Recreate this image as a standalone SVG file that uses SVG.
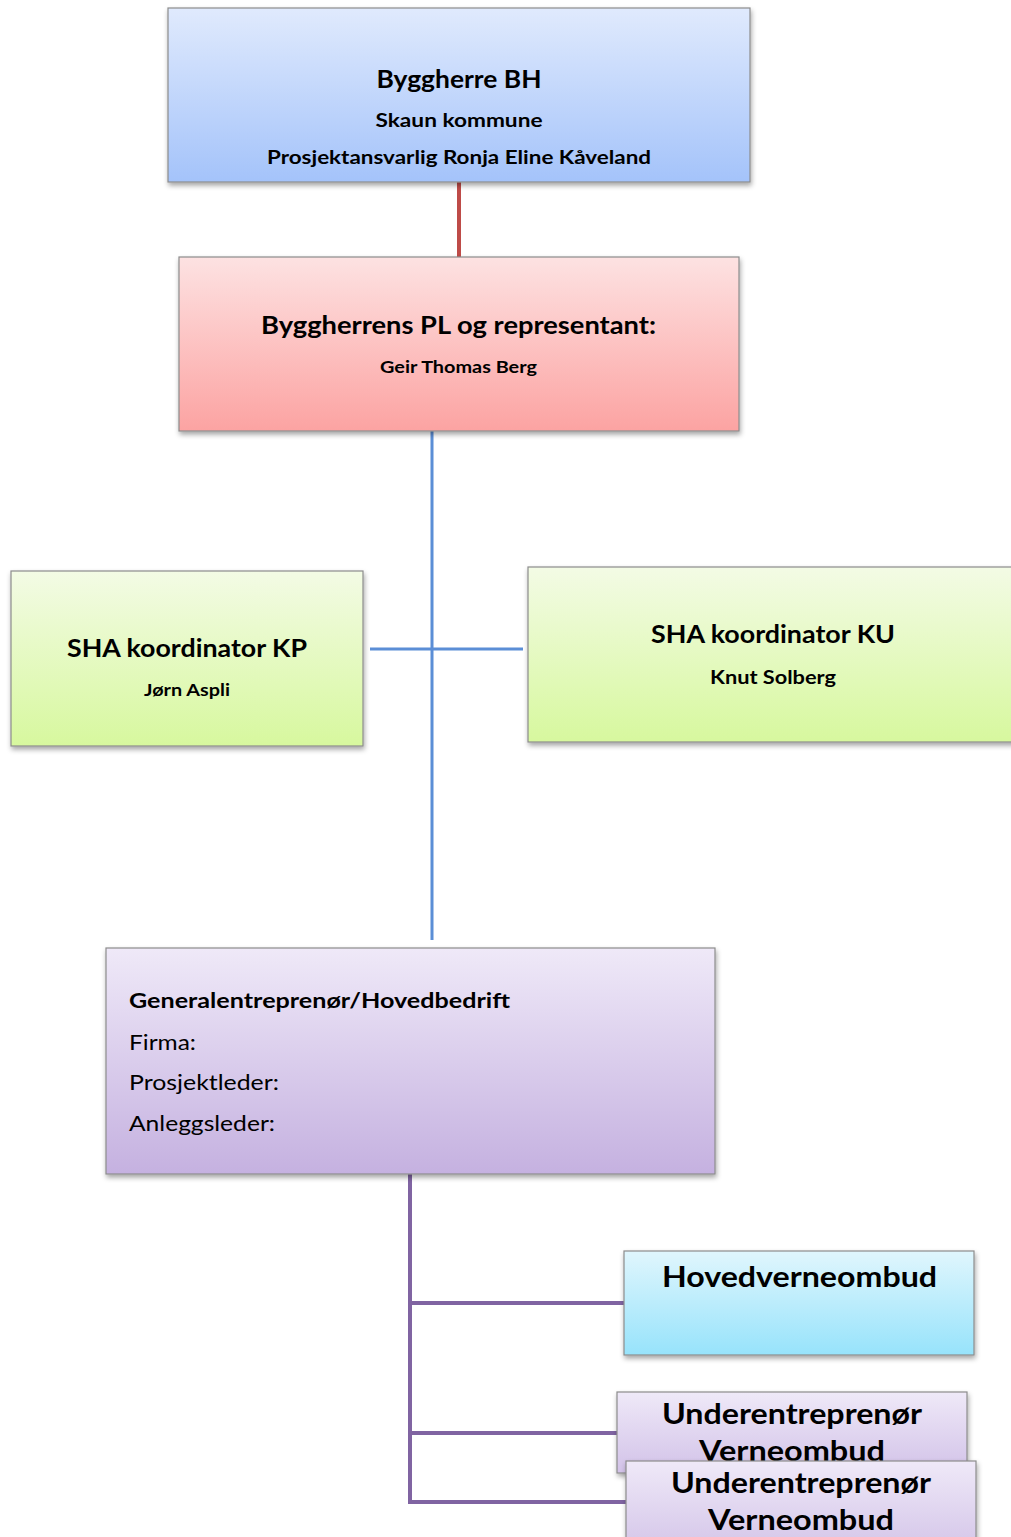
<svg xmlns="http://www.w3.org/2000/svg" width="1011" height="1537" viewBox="0 0 1011 1537">
<defs>
<linearGradient id="gBlue" x1="0" y1="0" x2="0" y2="1"><stop offset="0" stop-color="#e0eafd"/><stop offset="1" stop-color="#a4c3fa"/></linearGradient>
<linearGradient id="gRed" x1="0" y1="0" x2="0" y2="1"><stop offset="0" stop-color="#fde2e2"/><stop offset="1" stop-color="#fca3a2"/></linearGradient>
<linearGradient id="gGreen" x1="0" y1="0" x2="0" y2="1"><stop offset="0" stop-color="#f3fbe5"/><stop offset="1" stop-color="#d7f89e"/></linearGradient>
<linearGradient id="gPurple" x1="0" y1="0" x2="0" y2="1"><stop offset="0" stop-color="#efe9f8"/><stop offset="1" stop-color="#c5b1e0"/></linearGradient>
<linearGradient id="gPurpleS" x1="0" y1="0" x2="0" y2="1"><stop offset="0" stop-color="#efe9f8"/><stop offset="1" stop-color="#d2c2e8"/></linearGradient>
<linearGradient id="gCyan" x1="0" y1="0" x2="0" y2="1"><stop offset="0" stop-color="#e0f6fd"/><stop offset="1" stop-color="#97e3fb"/></linearGradient>
<filter id="sh" x="-5%" y="-10%" width="110%" height="125%"><feDropShadow dx="1" dy="3" stdDeviation="2.5" flood-color="#000" flood-opacity="0.35"/></filter>
</defs>
<style>
.box{stroke:#8c8c8c;stroke-width:1.2;filter:url(#sh)}
text{font-family:Lato,"Open Sans","Liberation Sans",sans-serif;fill:#000}
.b{font-weight:bold}
.c{text-anchor:middle}
.conn{fill:none}
</style>
<rect width="1011" height="1537" fill="#fff"/>
<g id="connectors" class="conn">
<line x1="459" y1="182" x2="459" y2="257" stroke="#be4b48" stroke-width="4"/>
<line x1="432" y1="431" x2="432" y2="940" stroke="#5b8ed6" stroke-width="3"/>
<line x1="370" y1="649" x2="523" y2="649" stroke="#5b8ed6" stroke-width="3"/>
<line x1="410" y1="1174" x2="410" y2="1503" stroke="#8064a2" stroke-width="4"/>
<line x1="410" y1="1303" x2="624" y2="1303" stroke="#8064a2" stroke-width="4"/>
<line x1="410" y1="1433" x2="618" y2="1433" stroke="#8064a2" stroke-width="4"/>
<line x1="408" y1="1502" x2="626" y2="1502" stroke="#8064a2" stroke-width="4"/>
</g>
<g id="byggherre">
<rect class="box" x="168" y="8" width="582" height="174" fill="url(#gBlue)"/>
<text class="b c" x="459" y="88" font-size="24" textLength="165" lengthAdjust="spacingAndGlyphs">Byggherre BH</text>
<text class="b c" x="459" y="127" font-size="19" textLength="167" lengthAdjust="spacingAndGlyphs">Skaun kommune</text>
<text class="b c" x="459" y="164" font-size="19" textLength="384" lengthAdjust="spacingAndGlyphs">Prosjektansvarlig Ronja Eline Kåveland</text>
</g>
<g id="pl">
<rect class="box" x="179" y="257" width="560" height="174" fill="url(#gRed)"/>
<text class="b c" x="458.5" y="334" font-size="24" textLength="395" lengthAdjust="spacingAndGlyphs">Byggherrens PL og representant:</text>
<text class="b c" x="458.5" y="373" font-size="17.5" textLength="157" lengthAdjust="spacingAndGlyphs">Geir Thomas Berg</text>
</g>
<g id="kp">
<rect class="box" x="11" y="571" width="352" height="175" fill="url(#gGreen)"/>
<text class="b c" x="187" y="657" font-size="24.5" textLength="240" lengthAdjust="spacingAndGlyphs">SHA koordinator KP</text>
<text class="b c" x="187" y="696" font-size="17.5" textLength="86" lengthAdjust="spacingAndGlyphs">Jørn Aspli</text>
</g>
<g id="ku">
<rect class="box" x="528" y="567" width="490" height="175" fill="url(#gGreen)"/>
<text class="b c" x="773" y="643" font-size="24.5" textLength="244" lengthAdjust="spacingAndGlyphs">SHA koordinator KU</text>
<text class="b c" x="773" y="684" font-size="19" textLength="126" lengthAdjust="spacingAndGlyphs">Knut Solberg</text>
</g>
<g id="ge">
<rect class="box" x="106" y="948" width="609" height="226" fill="url(#gPurple)"/>
<text class="b" x="129" y="1008" font-size="21.5" textLength="381" lengthAdjust="spacingAndGlyphs">Generalentreprenør/Hovedbedrift</text>
<text x="129" y="1050" font-size="21.5" textLength="67" lengthAdjust="spacingAndGlyphs">Firma:</text>
<text x="129" y="1090" font-size="21.5" textLength="150" lengthAdjust="spacingAndGlyphs">Prosjektleder:</text>
<text x="129" y="1131" font-size="21.5" textLength="146" lengthAdjust="spacingAndGlyphs">Anleggsleder:</text>
</g>
<g id="hvo">
<rect class="box" x="624" y="1251" width="350" height="104" fill="url(#gCyan)"/>
<text class="b c" x="799.5" y="1287" font-size="29" textLength="275" lengthAdjust="spacingAndGlyphs">Hovedverneombud</text>
</g>
<g id="ue1">
<rect class="box" x="617" y="1392" width="350" height="81" fill="url(#gPurpleS)"/>
<text class="b c" x="792" y="1424" font-size="29" textLength="260" lengthAdjust="spacingAndGlyphs">Underentreprenør</text>
<text class="b c" x="792" y="1461" font-size="29" textLength="186" lengthAdjust="spacingAndGlyphs">Verneombud</text>
</g>
<g id="ue2">
<rect class="box" x="626" y="1461" width="350" height="140" fill="url(#gPurple)"/>
<text class="b c" x="801" y="1493" font-size="29" textLength="260" lengthAdjust="spacingAndGlyphs">Underentreprenør</text>
<text class="b c" x="801" y="1530" font-size="29" textLength="186" lengthAdjust="spacingAndGlyphs">Verneombud</text>
</g>
</svg>
